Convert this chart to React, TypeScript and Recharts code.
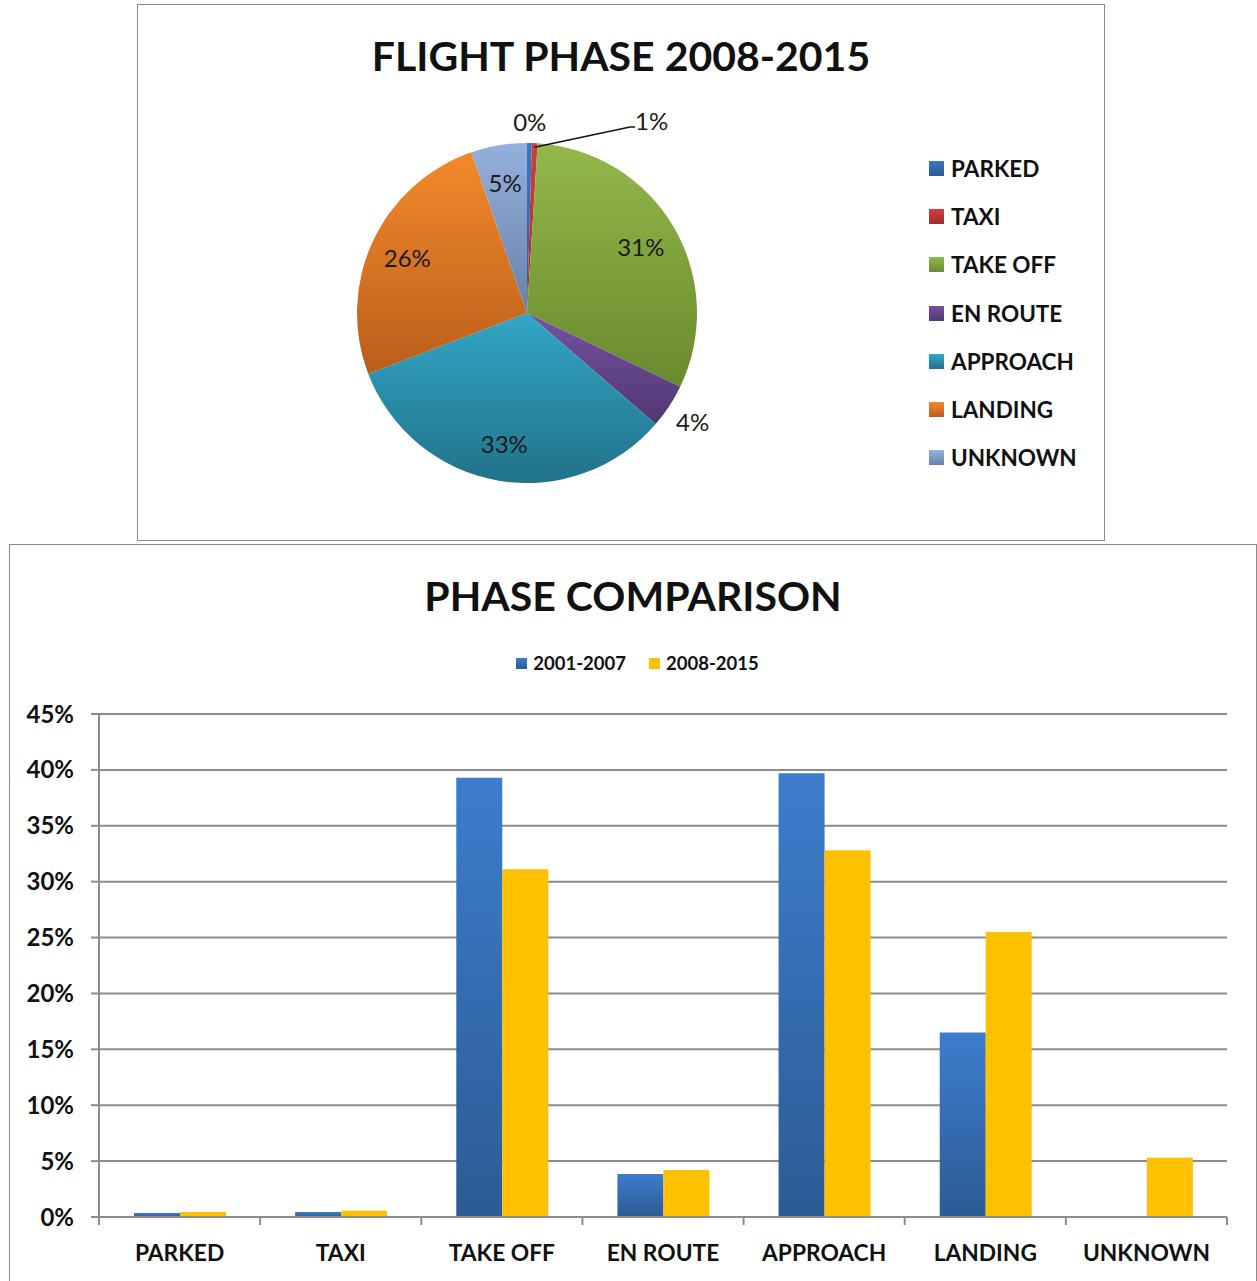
import { PieChart, Pie, Cell, Legend, BarChart, Bar, XAxis, YAxis, CartesianGrid } from "recharts";

const PHASES = ["PARKED", "TAXI", "TAKE OFF", "EN ROUTE", "APPROACH", "LANDING", "UNKNOWN"];
const SHARE_2001_2007 = [0.35, 0.45, 39.3, 3.85, 39.7, 16.5, 0];
const SHARE_2008_2015 = [0.45, 0.55, 31.1, 4.2, 32.8, 25.5, 5.3];
const PERCENT_TICKS = [0, 5, 10, 15, 20, 25, 30, 35, 40, 45];
const SERIES = ["2001-2007", "2008-2015"];

// top / bottom colour stops for the pie slices
const SLICE_COLORS: [string, string][] = [
  ["#3a78c4", "#2a5a96"],
  ["#cf4040", "#a02a2c"],
  ["#93b84a", "#6a8a2e"],
  ["#7453a0", "#513674"],
  ["#33a6c6", "#21728a"],
  ["#f28a2c", "#bb5e1b"],
  ["#94b0dc", "#6881ab"],
];

const FONT = "Lato, 'Open Sans', sans-serif";
const RADIAN = Math.PI / 180;

const pieData = PHASES.map((name, i) => ({ name, value: SHARE_2008_2015[i] }));
const barData = PHASES.map((name, i) => ({
  name,
  [SERIES[0]]: SHARE_2001_2007[i],
  [SERIES[1]]: SHARE_2008_2015[i],
}));

const PIE_W = 968;
const PIE_H = 537;

const BAR_W = 1248;
const BAR_H = 740;
const BAR_MARGIN = { top: 147, right: 28, left: 9, bottom: 25 };
const Y_AXIS_W = 80;
const BAND = (BAR_W - 3 - BAR_MARGIN.left - BAR_MARGIN.right - Y_AXIS_W) / PHASES.length;

function pieLabel(props: any) {
  const { cx, cy, midAngle, percent, index } = props;
  const text = `${Math.round(percent * 100)}%`;
  const style = { fontFamily: FONT, fontSize: 24, fill: "#1a1a1a" };
  const at = (r: number) => ({
    x: cx + r * Math.cos(-midAngle * RADIAN),
    y: cy + r * Math.sin(-midAngle * RADIAN),
  });
  if (index === 1) {
    const start = at(166);
    const bend = { x: cx + 103, y: cy - 186 };
    return (
      <g key={`lbl-${index}`}>
        <polyline
          points={`${start.x},${start.y} ${bend.x},${bend.y} ${bend.x + 5},${bend.y}`}
          fill="none"
          stroke="#111"
          strokeWidth={1.5}
        />
        <text x={bend.x + 5} y={cy - 193} dominantBaseline="central" textAnchor="start" {...style}>
          {text}
        </text>
      </g>
    );
  }
  const r = index === 0 ? 192 : index === 3 ? 198 : 132;
  const p = at(r);
  return (
    <text key={`lbl-${index}`} x={p.x} y={p.y} textAnchor="middle" dominantBaseline="central" {...style}>
      {text}
    </text>
  );
}

function PieLegend() {
  return (
    <div style={{ fontFamily: FONT }}>
      {PHASES.map((p, i) => (
        <div key={p} style={{ display: "flex", alignItems: "center", height: 48.3 }}>
          <span
            style={{
              width: 15,
              height: 15,
              marginRight: 7,
              background: `linear-gradient(${SLICE_COLORS[i][0]}, ${SLICE_COLORS[i][1]})`,
            }}
          />
          <span style={{ fontWeight: 700, fontSize: 22.5, color: "#111" }}>{p}</span>
        </div>
      ))}
    </div>
  );
}

function BarLegend() {
  const swatches = ["linear-gradient(#3b7dd0, #2b5b94)", "#ffc000"];
  return (
    <div style={{ display: "flex", justifyContent: "center", fontFamily: FONT, paddingLeft: 10 }}>
      {SERIES.map((s, i) => (
        <div key={s} style={{ display: "flex", alignItems: "center", marginRight: i === 0 ? 23 : 0 }}>
          <span style={{ width: 11, height: 11, marginRight: 6, background: swatches[i] }} />
          <span style={{ fontWeight: 700, fontSize: 18.5, color: "#111" }}>{s}</span>
        </div>
      ))}
    </div>
  );
}

function CategoryTick(props: any) {
  const { x, y, payload, index } = props;
  const left = x - BAND / 2;
  const right = x + BAND / 2;
  return (
    <g>
      <line x1={left} y1={y - 8} x2={left} y2={y} stroke="#8c8c8c" strokeWidth={2} />
      {index === PHASES.length - 1 && (
        <line x1={right} y1={y - 8} x2={right} y2={y} stroke="#8c8c8c" strokeWidth={2} />
      )}
      <text
        x={x}
        y={y + 27}
        textAnchor="middle"
        dominantBaseline="central"
        fontFamily={FONT}
        fontWeight={700}
        fontSize={22.75}
        fill="#111"
      >
        {payload.value}
      </text>
    </g>
  );
}

const titleStyle = {
  position: "absolute" as const,
  left: 0,
  width: "100%",
  textAlign: "center" as const,
  fontFamily: FONT,
  fontWeight: 700,
  fontSize: 41,
  lineHeight: "50px",
  color: "#111",
};

export default function App() {
  return (
    <div style={{ position: "absolute", left: 0, top: 0, width: 1257, height: 1281, background: "#fff", overflow: "hidden" }}>
      {/* pie chart box */}
      <div
        style={{
          position: "absolute",
          left: 137,
          top: 4,
          width: PIE_W,
          height: PIE_H,
          border: "1.5px solid #8c8c8c",
          boxSizing: "border-box",
        }}
      >
        <div style={{ ...titleStyle, top: 26 }}>FLIGHT PHASE 2008-2015</div>
        <PieChart
          width={PIE_W - 3}
          height={PIE_H - 3}
          margin={{ top: 0, right: 0, bottom: 0, left: 0 }}
          style={{ position: "absolute", left: 0, top: 0 }}
        >
          <defs>
            {SLICE_COLORS.map((c, i) => (
              <linearGradient key={i} id={`slice${i}`} x1="0" y1="0" x2="0" y2="1">
                <stop offset="0%" stopColor={c[0]} />
                <stop offset="100%" stopColor={c[1]} />
              </linearGradient>
            ))}
          </defs>
          <Pie
            data={pieData}
            dataKey="value"
            nameKey="name"
            cx={389}
            cy={308}
            outerRadius={170}
            startAngle={90}
            endAngle={-270}
            stroke="none"
            label={pieLabel}
            labelLine={false}
            isAnimationActive={false}
          >
            {pieData.map((d, i) => (
              <Cell key={d.name} fill={`url(#slice${i})`} />
            ))}
          </Pie>
          <Legend
            content={() => <PieLegend />}
            wrapperStyle={{ position: "absolute", left: 791, top: 139, width: 175 }}
          />
        </PieChart>
      </div>

      {/* bar chart box */}
      <div
        style={{
          position: "absolute",
          left: 9,
          top: 544,
          width: BAR_W,
          height: BAR_H,
          border: "1.5px solid #8c8c8c",
          boxSizing: "border-box",
        }}
      >
        <div style={{ ...titleStyle, top: 26 }}>PHASE COMPARISON</div>
        <BarChart
          width={BAR_W - 3}
          height={BAR_H - 3}
          data={barData}
          margin={BAR_MARGIN}
          barGap={0}
          barSize={46}
          style={{ position: "absolute", left: 0, top: 0 }}
        >
          <defs>
            <linearGradient id="blueBar" x1="0" y1="0" x2="0" y2="1">
              <stop offset="0%" stopColor="#3d7dcd" />
              <stop offset="100%" stopColor="#2c5b95" />
            </linearGradient>
          </defs>
          <CartesianGrid horizontal vertical={false} stroke="#8c8c8c" strokeWidth={2} />
          <XAxis
            dataKey="name"
            axisLine={{ stroke: "#8c8c8c", strokeWidth: 2 }}
            tickLine={false}
            tick={<CategoryTick />}
            interval={0}
            height={40}
          />
          <YAxis
            domain={[0, 45]}
            ticks={PERCENT_TICKS}
            tickFormatter={(v) => `${v}%`}
            width={Y_AXIS_W}
            axisLine={{ stroke: "#8c8c8c", strokeWidth: 2 }}
            tickLine={{ stroke: "#8c8c8c", strokeWidth: 2 }}
            tickSize={8}
            tickMargin={17}
            tick={{ fontFamily: FONT, fontWeight: 700, fontSize: 24, fill: "#111" }}
          />
          <Legend
            content={() => <BarLegend />}
            verticalAlign="top"
            wrapperStyle={{ position: "absolute", top: 107, left: 0, width: BAR_W - 3 }}
          />
          <Bar dataKey={SERIES[0]} fill="url(#blueBar)" isAnimationActive={false} />
          <Bar dataKey={SERIES[1]} fill="#ffc000" isAnimationActive={false} />
        </BarChart>
      </div>
    </div>
  );
}
